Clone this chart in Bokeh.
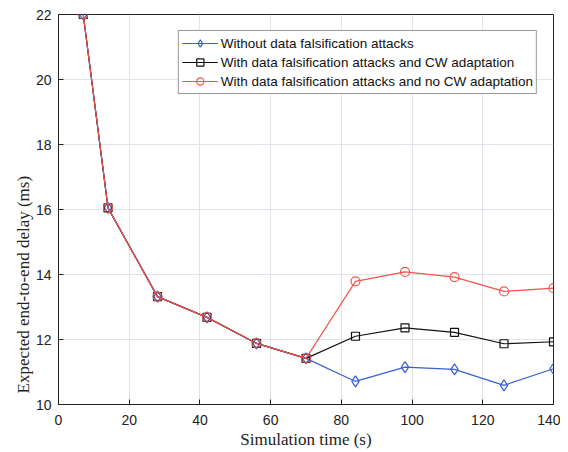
from bokeh.plotting import figure
from bokeh.models import Range1d, FixedTicker, Legend, LegendItem, Title
from bokeh.embed import file_html
from bokeh.resources import INLINE

sim_time = [7, 14, 28, 42, 56, 70, 84, 98, 112, 126, 140]
no_attack = [22.0, 16.05, 13.32, 12.68, 11.88, 11.42, 10.71, 11.15, 11.08, 10.59, 11.1]
attack_cw = [22.0, 16.05, 13.32, 12.68, 11.88, 11.42, 12.1, 12.36, 12.22, 11.87, 11.93]
attack_no_cw = [22.0, 16.05, 13.32, 12.68, 11.88, 11.42, 13.79, 14.08, 13.92, 13.48, 13.58]

x_ticks = [0, 20, 40, 60, 80, 100, 120, 140]
y_ticks = [10, 12, 14, 16, 18, 20, 22]

labels = ["Without data falsification attacks",
          "With data falsification attacks and CW adaptation",
          "With data falsification attacks and no CW adaptation"]
x_label = "Simulation time (s)"
y_label = "Expected  end-to-end delay (ms)"

BLUE = "#3a5fd0"
BLACK = "#111111"
RED = "#f2544c"

p = figure(width=560, height=452, output_backend="svg", toolbar_location=None,
           x_range=Range1d(0, 140), y_range=Range1d(10, 22),
           min_border_left=58, min_border_right=7, min_border_top=14, min_border_bottom=48)
p.outline_line_color = "#222222"
p.outline_line_width = 1

for ax in (p.xaxis[0], p.yaxis[0]):
    ax.major_tick_in = 5
    ax.major_tick_out = 0
    ax.minor_tick_line_color = None
    ax.axis_line_color = "#222222"
    ax.major_tick_line_color = "#222222"
    ax.major_label_text_font = "Liberation Sans"
    ax.major_label_text_font_size = "14px"
    ax.major_label_text_color = "#222222"
    ax.axis_label_text_font = "Liberation Serif"
    ax.axis_label_text_font_size = "17px"
    ax.axis_label_text_font_style = "normal"
    ax.axis_label_text_color = "#222222"

p.xaxis.ticker = FixedTicker(ticks=x_ticks)
p.yaxis.ticker = FixedTicker(ticks=y_ticks)
p.xaxis.axis_label = x_label
p.xaxis.major_label_standoff = 10
p.yaxis.major_label_standoff = 7
p.xaxis.axis_label_standoff = 2

ytitle = Title(text=y_label, align="left", offset=11,
               text_font="Liberation Serif", text_font_size="17px",
               text_font_style="normal", text_color="#222222", standoff=0)
p.add_layout(ytitle, "left")

p.xgrid.ticker = FixedTicker(ticks=x_ticks)
p.ygrid.ticker = FixedTicker(ticks=y_ticks)
p.xgrid.grid_line_color = "#dfe3ea"
p.ygrid.grid_line_color = "#dfe3ea"

l1 = p.line(sim_time, no_attack, line_color=BLUE, line_width=1.2)
m1 = p.scatter(sim_time, no_attack, marker="diamond", size=11, fill_color=None,
               line_color=BLUE, line_width=1.2)
l2 = p.line(sim_time, attack_cw, line_color=BLACK, line_width=1.2)
m2 = p.scatter(sim_time, attack_cw, marker="square", size=8, fill_color=None,
               line_color=BLACK, line_width=1.2)
l3 = p.line(sim_time, attack_no_cw, line_color=RED, line_width=1.2)
m3 = p.scatter(sim_time, attack_no_cw, marker="circle", size=9, fill_color=None,
               line_color=RED, line_width=1.2)

legend = Legend(items=[LegendItem(label=labels[0], renderers=[l1, m1]),
                       LegendItem(label=labels[1], renderers=[l2, m2]),
                       LegendItem(label=labels[2], renderers=[l3, m3])],
                location="top_right")
legend.margin = 16
legend.padding = 3
legend.spacing = 1
legend.label_height = 18
legend.glyph_height = 18
legend.glyph_width = 36
legend.label_standoff = 3
legend.label_text_font = "Liberation Sans"
legend.label_text_font_size = "13.5px"
legend.label_text_color = "#111111"
legend.border_line_color = "#333333"
legend.border_line_width = 1
legend.background_fill_color = "white"
legend.background_fill_alpha = 1
p.add_layout(legend, "center")

open("out.html", "w").write(file_html(p, INLINE))
